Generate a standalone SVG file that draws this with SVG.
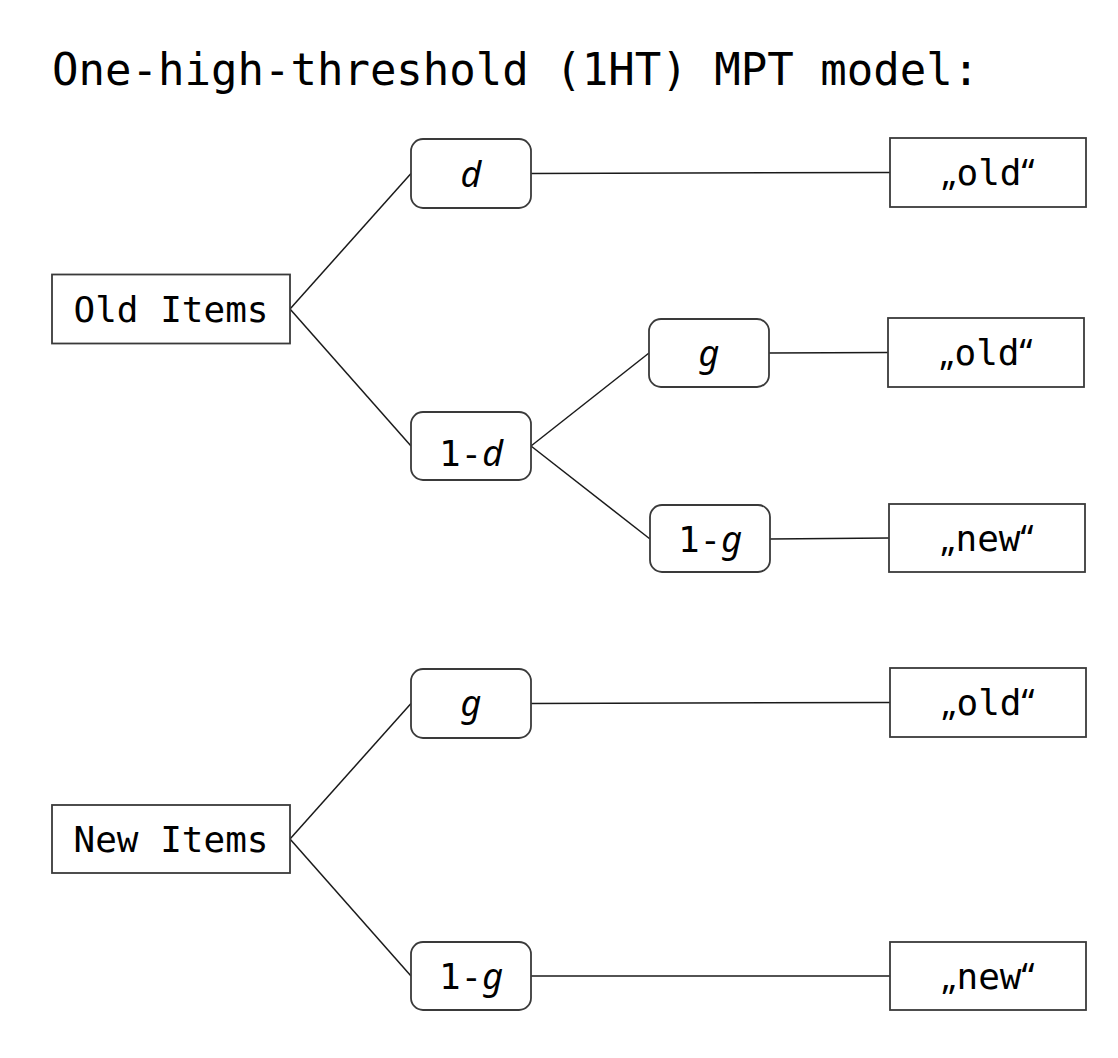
<svg xmlns="http://www.w3.org/2000/svg" width="1118" height="1058" viewBox="0 0 1118 1058">
<style>
.box{fill:#fff;stroke:#3a3a3a;stroke-width:1.8}
.mono{font-family:"DejaVu Sans Mono","Liberation Mono",monospace;fill:#000}
.t{font-size:36px;text-anchor:middle}
.it{font-family:"Noto Sans","Open Sans",sans-serif;font-style:italic}
.q{font-family:"Noto Sans","Liberation Sans",sans-serif}
.conn line{stroke:#1a1a1a;stroke-width:1.5}
</style>
<rect width="1118" height="1058" fill="#fff"/>
<text class="mono" x="52" y="85" font-size="44">One-high-threshold (1HT) MPT model:</text>
<g class="conn" id="connectors">
<line x1="290" y1="309" x2="411" y2="173.5"/>
<line x1="290" y1="309" x2="411" y2="446"/>
<line x1="531" y1="173.5" x2="890" y2="172.5"/>
<line x1="531" y1="446" x2="649" y2="353"/>
<line x1="531" y1="446" x2="650" y2="539"/>
<line x1="769" y1="353" x2="888" y2="352.5"/>
<line x1="770" y1="539" x2="889" y2="538"/>
<line x1="290" y1="839" x2="411" y2="703.5"/>
<line x1="290" y1="839" x2="411" y2="976"/>
<line x1="531" y1="703.5" x2="890" y2="702.5"/>
<line x1="531" y1="976" x2="890" y2="976"/>
</g>
<g id="old-items"><rect class="box" x="52" y="274.5" width="238" height="69"/><text class="mono t" x="171" y="322">Old Items</text></g>
<g id="d"><rect class="box" x="411" y="139" width="120" height="69" rx="12"/><text class="t it" x="471" y="187" font-size="36">d</text></g>
<g id="one-minus-d"><rect class="box" x="411" y="412" width="120" height="68" rx="12"/><text class="mono t" x="471" y="466"><tspan>1-</tspan><tspan class="it" font-size="36">d</tspan></text></g>
<g id="g1"><rect class="box" x="649" y="319" width="120" height="68" rx="12"/><text class="t it" x="709" y="366" font-size="36">g</text></g>
<g id="one-minus-g1"><rect class="box" x="650" y="505" width="120" height="67" rx="12"/><text class="mono t" x="710" y="552"><tspan>1-</tspan><tspan class="it" font-size="36">g</tspan></text></g>
<g id="resp-old-1"><rect class="box" x="890" y="138" width="196" height="69"/><text class="mono t" x="988" y="185"><tspan class="q">„</tspan>old<tspan class="q">“</tspan></text></g>
<g id="resp-old-2"><rect class="box" x="888" y="318" width="196" height="69"/><text class="mono t" x="986" y="365"><tspan class="q">„</tspan>old<tspan class="q">“</tspan></text></g>
<g id="resp-new-1"><rect class="box" x="889" y="504" width="196" height="68"/><text class="mono t" x="987" y="551"><tspan class="q">„</tspan>new<tspan class="q">“</tspan></text></g>
<g id="new-items"><rect class="box" x="52" y="805" width="238" height="68"/><text class="mono t" x="171" y="852">New Items</text></g>
<g id="g2"><rect class="box" x="411" y="669" width="120" height="69" rx="12"/><text class="t it" x="471" y="716" font-size="36">g</text></g>
<g id="one-minus-g2"><rect class="box" x="411" y="942" width="120" height="68" rx="12"/><text class="mono t" x="471" y="989"><tspan>1-</tspan><tspan class="it" font-size="36">g</tspan></text></g>
<g id="resp-old-3"><rect class="box" x="890" y="668" width="196" height="69"/><text class="mono t" x="988" y="715"><tspan class="q">„</tspan>old<tspan class="q">“</tspan></text></g>
<g id="resp-new-2"><rect class="box" x="890" y="942" width="196" height="68"/><text class="mono t" x="988" y="989"><tspan class="q">„</tspan>new<tspan class="q">“</tspan></text></g>
</svg>
